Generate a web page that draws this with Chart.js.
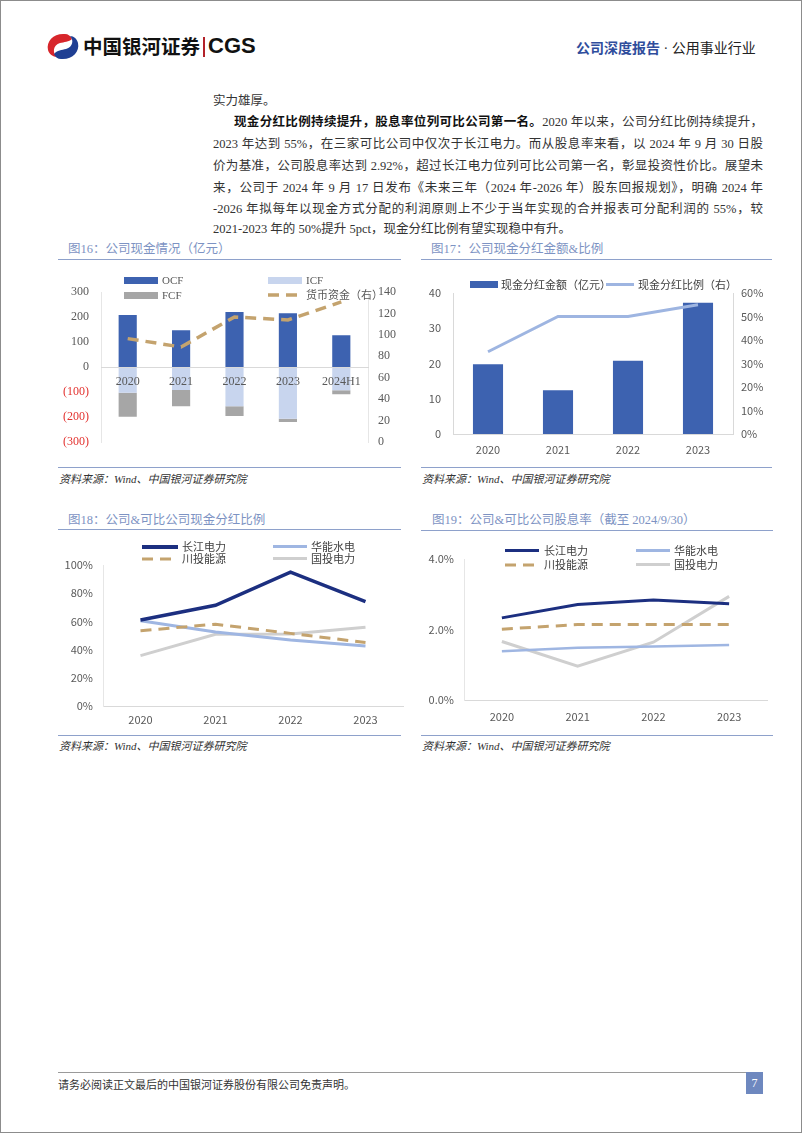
<!DOCTYPE html>
<html><head><meta charset="utf-8">
<script src="https://cdn.jsdelivr.net/npm/chart.js@4.4.1/dist/chart.umd.min.js"></script>
<style>
html,body{margin:0;padding:0;background:#fff;}
#page{position:relative;width:800px;height:1131px;border:1px solid #8c8c8c;overflow:hidden;font-family:"Liberation Serif","Noto Sans CJK SC",serif;color:#222;}
.abs{position:absolute;white-space:nowrap;}
.pl{position:absolute;left:212px;width:550px;font-size:12.5px;line-height:18px;height:18px;color:#333;text-align:justify;text-align-last:justify;white-space:nowrap;}
.title{position:absolute;font-size:12.5px;line-height:16px;color:#7d93c3;white-space:nowrap;}
.hr{position:absolute;height:0;border-top:1.5px solid #8ea1cb;}
.src{position:absolute;font-size:11px;line-height:14px;font-style:italic;color:#333;white-space:nowrap;}
canvas{position:absolute;}
.lg{position:absolute;font-size:11px;line-height:14px;color:#404040;white-space:nowrap;}
</style></head>
<body><div id="page">
<!-- header -->
<svg class="abs" style="left:44px;top:32px" width="36" height="27" viewBox="0 0 36 27">
 <path d="M20 1 C 9 0, 1 8, 3 17 C 4 21, 8 24, 12 24 C 7 20, 8 12, 15 10 C 19 9, 24 9, 27 6 C 26 3, 23 1, 20 1Z" fill="#d7262b"/>
 <path d="M16 26 C 27 27, 35 19, 33 10 C 32 6, 29 3, 25 3 C 29 7, 28 14, 21 16 C 17 17, 12 17, 9 21 C 10 24, 13 26, 16 26Z" fill="#1f3f93"/>
</svg>
<div class="abs" style="left:82px;top:33px;font-family:'Noto Sans CJK SC';font-weight:700;font-size:19.5px;line-height:24px;color:#111;">中国银河证券</div>
<div class="abs" style="left:202px;top:36px;width:2px;height:20px;background:#b3222a;"></div>
<div class="abs" style="left:207px;top:32px;font-family:'Liberation Sans';font-weight:700;font-size:22px;line-height:26px;color:#111;">CGS</div>
<div class="abs" style="left:575px;top:37px;font-size:14px;line-height:18px;"><span style="font-family:'Noto Sans CJK SC';font-weight:700;color:#2f4d9c;">公司深度报告</span><span style="color:#333;"> · </span><span style="font-family:'Noto Sans CJK SC';color:#222;">公用事业行业</span></div>

<!-- paragraph -->
<div class="pl" style="top:91px;text-align-last:left;">实力雄厚。</div>
<div class="pl" style="top:112px;padding-left:21px;width:529px;"><b style="color:#111">现金分红比例持续提升，股息率位列可比公司第一名。</b>2020 年以来，公司分红比例持续提升，</div>
<div class="pl" style="top:134px;">2023 年达到 55%，在三家可比公司中仅次于长江电力。而从股息率来看，以 2024 年 9 月 30 日股</div>
<div class="pl" style="top:156px;">价为基准，公司股息率达到 2.92%，超过长江电力位列可比公司第一名，彰显投资性价比。展望未</div>
<div class="pl" style="top:178px;">来，公司于 2024 年 9 月 17 日发布《未来三年（2024 年-2026 年）股东回报规划》，明确 2024 年</div>
<div class="pl" style="top:199px;">-2026 年拟每年以现金方式分配的利润原则上不少于当年实现的合并报表可分配利润的 55%，较</div>
<div class="pl" style="top:219px;text-align-last:left;">2021-2023 年的 50%提升 5pct，现金分红比例有望实现稳中有升。</div>

<!-- chart frames -->
<div class="title" style="left:67px;top:240px;">图16：公司现金情况（亿元）</div>
<div class="hr" style="left:57px;width:343px;top:258px;"></div>
<div class="hr" style="left:57px;width:343px;top:466px;"></div>
<div class="src" style="left:58px;top:471px;">资料来源：Wind、中国银河证券研究院</div>

<div class="title" style="left:430px;top:240px;">图17：公司现金分红金额&amp;比例</div>
<div class="hr" style="left:420px;width:351px;top:258px;"></div>
<div class="hr" style="left:420px;width:351px;top:466px;"></div>
<div class="src" style="left:421px;top:471px;">资料来源：Wind、中国银河证券研究院</div>

<div class="title" style="left:67px;top:511px;">图18：公司&amp;可比公司现金分红比例</div>
<div class="hr" style="left:57px;width:343px;top:528px;"></div>
<div class="hr" style="left:57px;width:343px;top:734px;"></div>
<div class="src" style="left:58px;top:738px;">资料来源：Wind、中国银河证券研究院</div>

<div class="title" style="left:431px;top:511px;">图19：公司&amp;可比公司股息率（截至 2024/9/30）</div>
<div class="hr" style="left:420px;width:352px;top:529px;"></div>
<div class="hr" style="left:420px;width:352px;top:734px;"></div>
<div class="src" style="left:421px;top:738px;">资料来源：Wind、中国银河证券研究院</div>

<canvas id="c16" width="343" height="200" style="left:57px;top:262px;"></canvas>
<canvas id="c17" width="352" height="200" style="left:420px;top:262px;"></canvas>
<canvas id="c18" width="348" height="200" style="left:57px;top:532px;"></canvas>
<canvas id="c19" width="352" height="200" style="left:420px;top:532px;"></canvas>

<!-- legends -->
<div class="abs" style="left:123px;top:276px;width:34px;height:7px;background:#3d62b0;"></div>
<div class="lg" style="left:161px;top:272px;font-family:'Liberation Serif';color:#595959;">OCF</div>
<div class="abs" style="left:267px;top:276px;width:34px;height:7px;background:#c8d5ee;"></div>
<div class="lg" style="left:305px;top:272px;font-family:'Liberation Serif';color:#595959;">ICF</div>
<div class="abs" style="left:123px;top:291px;width:34px;height:7px;background:#a6a6a6;"></div>
<div class="lg" style="left:161px;top:287px;font-family:'Liberation Serif';color:#595959;">FCF</div>
<svg class="abs" style="left:267px;top:290px" width="36" height="8"><line x1="0" y1="4" x2="36" y2="4" stroke="#c4a36e" stroke-width="3.5" stroke-dasharray="11 7"/></svg>
<div class="lg" style="left:305px;top:287px;font-family:'Liberation Serif','Noto Sans CJK SC';color:#595959;">货币资金（右）</div>

<div class="abs" style="left:469px;top:280px;width:28px;height:7px;background:#3d62b0;"></div>
<div class="lg" style="left:500px;top:276px;font-family:'Noto Sans CJK SC';">现金分红金额（亿元）</div>
<div class="abs" style="left:605px;top:282px;width:28px;height:3px;background:#9eb5e1;"></div>
<div class="lg" style="left:637px;top:276px;font-family:'Noto Sans CJK SC';">现金分红比例（右）</div>

<div class="abs" style="left:141px;top:544px;width:36px;height:3.5px;background:#1c2f80;"></div>
<div class="lg" style="left:181px;top:538px;font-family:'Noto Sans CJK SC';">长江电力</div>
<div class="abs" style="left:272px;top:544px;width:34px;height:3px;background:#9fb6e2;"></div>
<div class="lg" style="left:310px;top:538px;font-family:'Noto Sans CJK SC';">华能水电</div>
<svg class="abs" style="left:141px;top:554px" width="36" height="8"><line x1="0" y1="4" x2="36" y2="4" stroke="#c4a36e" stroke-width="3" stroke-dasharray="11 7"/></svg>
<div class="lg" style="left:181px;top:550px;font-family:'Noto Sans CJK SC';">川投能源</div>
<div class="abs" style="left:272px;top:556px;width:34px;height:3px;background:#cfcfcf;"></div>
<div class="lg" style="left:310px;top:550px;font-family:'Noto Sans CJK SC';">国投电力</div>

<div class="abs" style="left:504px;top:548px;width:34px;height:3px;background:#1c2f80;"></div>
<div class="lg" style="left:543px;top:542px;font-family:'Noto Sans CJK SC';">长江电力</div>
<div class="abs" style="left:635px;top:548px;width:34px;height:3px;background:#9fb6e2;"></div>
<div class="lg" style="left:673px;top:542px;font-family:'Noto Sans CJK SC';">华能水电</div>
<svg class="abs" style="left:504px;top:560px" width="36" height="8"><line x1="0" y1="4" x2="36" y2="4" stroke="#c4a36e" stroke-width="3" stroke-dasharray="11 7"/></svg>
<div class="lg" style="left:543px;top:556px;font-family:'Noto Sans CJK SC';">川投能源</div>
<div class="abs" style="left:635px;top:562px;width:34px;height:3px;background:#cfcfcf;"></div>
<div class="lg" style="left:673px;top:556px;font-family:'Noto Sans CJK SC';">国投电力</div>

<!-- footer -->
<div class="abs" style="left:57px;top:1071px;width:688px;height:0;border-top:1px solid #9a9a9a;"></div>
<div class="abs" style="left:57px;top:1076px;font-size:11px;line-height:14px;color:#333;font-family:'Noto Sans CJK SC';">请务必阅读正文最后的中国银河证券股份有限公司免责声明。</div>
<div class="abs" style="left:745px;top:1071px;width:17px;height:22px;background:#6e88bf;color:#fff;font-size:12px;line-height:22px;text-align:center;">7</div>
</div>

<script>
// ---------- data ----------
const years16 = ['2020', '2021', '2022', '2023', '2024H1'];
const ocf = [208, 147, 220, 215, 127];
const icf = [-103, -92, -157, -207, -93];
const fcf = [-96, -65, -39, -13, -16];
const cashFunds = [96.5, 88.7, 116.7, 113.9, 130.7];
const yTicks16L = ['(300)', '(200)', '(100)', '0', '100', '200', '300'];
const yTicks16R = ['0', '20', '40', '60', '80', '100', '120', '140'];

const years = ['2020', '2021', '2022', '2023'];
const dividendAmt = [19.8, 12.4, 20.8, 37.2];
const dividendRatio = [35, 50, 50, 55];
const yTicks17L = ['0', '10', '20', '30', '40'];
const yTicks17R = ['0%', '10%', '20%', '30%', '40%', '50%', '60%'];

const payoutCJ = [61, 71.4, 95, 74];
const payoutHN = [60.5, 52.5, 46.8, 42.5];
const payoutCT = [53.4, 58, 51.5, 45];
const payoutGT = [35.7, 50.8, 51, 55.8];
const yTicks18 = ['0%', '20%', '40%', '60%', '80%', '100%'];

const yieldCJ = [2.33, 2.71, 2.84, 2.73];
const yieldHN = [1.38, 1.48, 1.52, 1.56];
const yieldCT = [2.01, 2.14, 2.14, 2.14];
const yieldGT = [1.66, 0.96, 1.64, 2.94];
const yTicks19 = ['0.0%', '2.0%', '4.0%'];

// ---------- common ----------
const AX = '#d9d9d9';
const TXT = '#595959';
const SANS = "'Noto Sans CJK SC','Noto Sans',sans-serif";
const SERIF = "'Liberation Serif',serif";
const noGrid = {display: false, drawTicks: false};
const base = {responsive: false, animation: false, devicePixelRatio: 1,
  plugins: {legend: {display: false}, tooltip: {enabled: false}}};

// ---------- chart 16 ----------
new Chart(document.getElementById('c16'), {
  type: 'bar',
  data: {labels: years16, datasets: [
    {label: 'OCF', data: ocf, backgroundColor: '#3d62b0', stack: 's', order: 2, barPercentage: 0.34, categoryPercentage: 1},
    {label: 'ICF', data: icf, backgroundColor: '#c8d5ee', stack: 's', order: 2, barPercentage: 0.34, categoryPercentage: 1},
    {label: 'FCF', data: fcf, backgroundColor: '#a6a6a6', stack: 's', order: 2, barPercentage: 0.34, categoryPercentage: 1},
    {type: 'line', label: '货币资金（右）', data: cashFunds, yAxisID: 'y1', borderColor: '#c4a36e', borderWidth: 3.5,
     borderDash: [11, 7], pointRadius: 0, fill: false, tension: 0, order: 1}
  ]},
  options: Object.assign({}, base, {
    layout: {padding: {top: 29, bottom: 21, left: 0, right: 0}},
    scales: {
      x: {stacked: true, position: {y: 0}, grid: noGrid, border: {display: true, color: AX, z: 1},
          ticks: {z: 1, padding: 8, color: TXT, font: {family: SERIF, size: 12}}},
      y: {stacked: true, min: -300, max: 300, grid: noGrid, border: {display: true, color: '#e6e6e6'},
          ticks: {stepSize: 100, padding: 12, color: (c) => c.tick && c.tick.value < 0 ? '#e3322f' : TXT,
                  font: {family: SERIF, size: 12}, callback: (v, i) => yTicks16L[i]},
          afterFit: (s) => { s.width = 43; }},
      y1: {position: 'right', min: 0, max: 140, grid: noGrid, border: {display: true, color: '#e6e6e6'},
           ticks: {stepSize: 20, padding: 10, color: TXT, font: {family: SERIF, size: 12}, callback: (v, i) => yTicks16R[i]},
           afterFit: (s) => { s.width = 33; }}
    }
  })
});

// ---------- chart 17 ----------
new Chart(document.getElementById('c17'), {
  type: 'bar',
  data: {labels: years, datasets: [
    {label: '现金分红比例（右）', type: 'line', data: dividendRatio, yAxisID: 'y1', borderColor: '#9eb5e1', borderWidth: 3,
     pointRadius: 0, tension: 0, fill: false, order: 1},
    {label: '现金分红金额（亿元）', data: dividendAmt, backgroundColor: '#3d62b0', barPercentage: 0.43, categoryPercentage: 1, order: 2}
  ]},
  options: Object.assign({}, base, {
    layout: {padding: {top: 30, bottom: 0, left: 0, right: 0}},
    scales: {
      x: {grid: noGrid, border: {display: true, color: AX}, ticks: {padding: 9, color: TXT, font: {family: SANS, size: 11}},
          afterFit: (s) => { s.height = 29; }},
      y: {min: 0, max: 40, grid: noGrid, border: {display: true, color: AX},
          ticks: {stepSize: 10, padding: 12, color: TXT, font: {family: SANS, size: 11}, callback: (v, i) => yTicks17L[i]},
          afterFit: (s) => { s.width = 32; }},
      y1: {position: 'right', min: 0, max: 60, grid: noGrid, border: {display: true, color: AX},
           ticks: {stepSize: 10, padding: 8, color: TXT, font: {family: SANS, size: 11}, callback: (v, i) => yTicks17R[i]},
           afterFit: (s) => { s.width = 40; }}
    }
  })
});

// ---------- chart 18 ----------
new Chart(document.getElementById('c18'), {
  type: 'line',
  data: {labels: years, datasets: [
    {label: '国投电力', data: payoutGT, borderColor: '#cfcfcf', borderWidth: 3, order: 4},
    {label: '华能水电', data: payoutHN, borderColor: '#9fb6e2', borderWidth: 3, order: 3},
    {label: '川投能源', data: payoutCT, borderColor: '#c4a36e', borderWidth: 3, borderDash: [11, 7], order: 2},
    {label: '长江电力', data: payoutCJ, borderColor: '#1c2f80', borderWidth: 3.5, order: 1}
  ]},
  options: Object.assign({}, base, {
    elements: {point: {radius: 0}, line: {tension: 0, fill: false}},
    layout: {padding: {top: 32, bottom: 0, left: 0, right: 3}},
    scales: {
      x: {offset: true, grid: noGrid, border: {display: true, color: AX}, ticks: {padding: 7, color: TXT, font: {family: SANS, size: 11}},
          afterFit: (s) => { s.height = 27; }},
      y: {min: 0, max: 100, grid: noGrid, border: {display: true, color: '#e6e6e6'},
          ticks: {stepSize: 20, padding: 10, color: TXT, font: {family: SANS, size: 11}, callback: (v, i) => yTicks18[i]},
          afterFit: (s) => { s.width = 45; }}
    }
  })
});

// ---------- chart 19 ----------
new Chart(document.getElementById('c19'), {
  type: 'line',
  data: {labels: years, datasets: [
    {label: '国投电力', data: yieldGT, borderColor: '#cfcfcf', borderWidth: 3, order: 4},
    {label: '华能水电', data: yieldHN, borderColor: '#9fb6e2', borderWidth: 2.5, order: 3},
    {label: '川投能源', data: yieldCT, borderColor: '#c4a36e', borderWidth: 3, borderDash: [11, 7], order: 2},
    {label: '长江电力', data: yieldCJ, borderColor: '#1c2f80', borderWidth: 3, order: 1}
  ]},
  options: Object.assign({}, base, {
    elements: {point: {radius: 0}, line: {tension: 0, fill: false}},
    layout: {padding: {top: 26, bottom: 0, left: 0, right: 6}},
    scales: {
      x: {offset: true, grid: noGrid, border: {display: true, color: AX}, ticks: {padding: 10, color: TXT, font: {family: SANS, size: 11}},
          afterFit: (s) => { s.height = 33; }},
      y: {min: 0, max: 4, grid: noGrid, border: {display: true, color: '#e6e6e6'},
          ticks: {stepSize: 2, padding: 10, color: TXT, font: {family: SANS, size: 11}, callback: (v, i) => yTicks19[i]},
          afterFit: (s) => { s.width = 43; }}
    }
  })
});
</script>
</body></html>
